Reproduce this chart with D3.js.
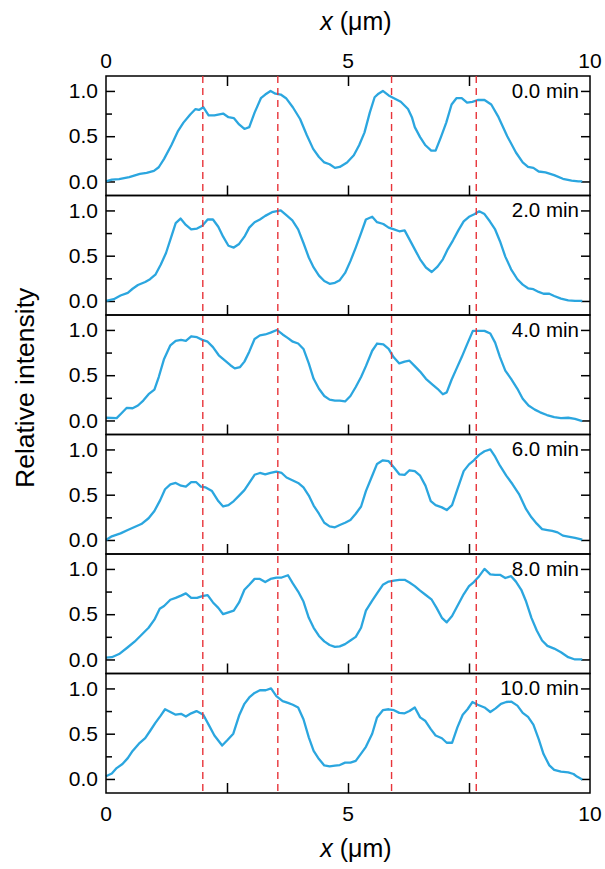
<!DOCTYPE html>
<html>
<head>
<meta charset="utf-8">
<script src="https://cdn.jsdelivr.net/npm/d3@7"></script>
<style>
  body { margin: 0; background: #fff; }
  svg { display: block; }
  text { font-family: "Liberation Sans", Arial, sans-serif; fill: #000; }
</style>
</head>
<body>
<div id="chart"></div>
<script>
// profiles, [x (um), relative intensity]
var profile0 = [[0,0],[0.12,0.02],[0.27,0.026],[0.48,0.048],[0.7,0.084],[0.84,0.095],[0.99,0.117],[1.09,0.157],[1.2,0.25],[1.35,0.4],[1.49,0.56],[1.6,0.65],[1.74,0.74],[1.85,0.8],[1.92,0.79],[2.01,0.82],[2.12,0.73],[2.24,0.73],[2.42,0.75],[2.53,0.71],[2.64,0.7],[2.75,0.63],[2.86,0.58],[2.96,0.6],[3.07,0.76],[3.2,0.92],[3.29,0.96],[3.4,1.0],[3.5,0.97],[3.61,0.96],[3.72,0.92],[3.86,0.82],[4.01,0.69],[4.15,0.51],[4.28,0.36],[4.4,0.27],[4.51,0.21],[4.62,0.19],[4.73,0.15],[4.83,0.16],[4.98,0.21],[5.12,0.29],[5.23,0.4],[5.34,0.54],[5.45,0.76],[5.55,0.93],[5.63,0.97],[5.72,1.0],[5.84,0.95],[5.95,0.92],[6.09,0.88],[6.24,0.8],[6.32,0.71],[6.38,0.6],[6.49,0.49],[6.6,0.4],[6.72,0.34],[6.81,0.34],[6.92,0.49],[7.03,0.65],[7.14,0.85],[7.24,0.92],[7.35,0.92],[7.46,0.87],[7.57,0.88],[7.68,0.9],[7.82,0.9],[7.96,0.85],[8.11,0.71],[8.29,0.5],[8.47,0.32],[8.61,0.21],[8.72,0.16],[8.83,0.15],[8.94,0.11],[9.08,0.1],[9.26,0.07],[9.44,0.03],[9.62,0.01],[9.76,0],[9.84,0]];
var profile2 = [[0,0],[0.16,0.02],[0.3,0.06],[0.45,0.09],[0.55,0.135],[0.66,0.176],[0.81,0.21],[0.91,0.24],[1.02,0.29],[1.13,0.4],[1.24,0.53],[1.35,0.71],[1.44,0.86],[1.54,0.91],[1.65,0.84],[1.76,0.79],[1.88,0.8],[1.99,0.83],[2.1,0.9],[2.21,0.9],[2.32,0.82],[2.42,0.71],[2.53,0.61],[2.64,0.59],[2.75,0.63],[2.86,0.71],[2.96,0.81],[3.07,0.87],[3.18,0.9],[3.29,0.94],[3.43,0.98],[3.61,1.0],[3.72,0.95],[3.85,0.89],[3.97,0.79],[4.08,0.64],[4.19,0.48],[4.29,0.37],[4.4,0.28],[4.51,0.22],[4.62,0.19],[4.73,0.2],[4.83,0.23],[4.94,0.31],[5.05,0.44],[5.16,0.59],[5.27,0.75],[5.37,0.9],[5.5,0.93],[5.6,0.87],[5.73,0.85],[5.84,0.81],[5.95,0.79],[6.06,0.77],[6.17,0.78],[6.27,0.68],[6.38,0.57],[6.49,0.46],[6.61,0.37],[6.73,0.32],[6.85,0.38],[6.96,0.46],[7.06,0.57],[7.17,0.67],[7.28,0.78],[7.39,0.88],[7.5,0.93],[7.62,0.96],[7.71,0.99],[7.82,0.96],[7.93,0.88],[8.04,0.79],[8.14,0.66],[8.25,0.49],[8.37,0.35],[8.5,0.24],[8.61,0.18],[8.72,0.14],[8.83,0.13],[8.94,0.1],[9.04,0.08],[9.16,0.08],[9.26,0.055],[9.4,0.026],[9.55,0.007],[9.69,0],[9.84,0]];
var profile4 = [[0,0.03],[0.22,0.026],[0.32,0.08],[0.43,0.14],[0.55,0.135],[0.66,0.165],[0.77,0.22],[0.88,0.29],[1.0,0.34],[1.09,0.48],[1.2,0.68],[1.33,0.83],[1.44,0.88],[1.55,0.89],[1.65,0.88],[1.76,0.93],[1.88,0.92],[1.99,0.89],[2.1,0.87],[2.21,0.81],[2.33,0.72],[2.46,0.66],[2.57,0.61],[2.66,0.575],[2.77,0.59],[2.86,0.65],[2.96,0.76],[3.07,0.9],[3.18,0.94],[3.29,0.95],[3.4,0.97],[3.53,1.0],[3.65,0.95],[3.76,0.91],[3.86,0.87],[3.97,0.85],[4.08,0.79],[4.19,0.63],[4.29,0.46],[4.4,0.35],[4.51,0.27],[4.62,0.23],[4.73,0.22],[4.83,0.22],[4.94,0.21],[5.05,0.27],[5.16,0.37],[5.27,0.48],[5.37,0.6],[5.5,0.77],[5.6,0.85],[5.73,0.84],[5.84,0.79],[5.94,0.7],[6.06,0.63],[6.17,0.65],[6.27,0.66],[6.38,0.6],[6.49,0.54],[6.61,0.46],[6.74,0.4],[6.85,0.35],[6.96,0.29],[7.04,0.31],[7.14,0.45],[7.24,0.57],[7.35,0.7],[7.46,0.84],[7.58,0.99],[7.71,0.99],[7.82,0.99],[7.94,0.96],[8.04,0.86],[8.14,0.7],[8.25,0.55],[8.37,0.46],[8.5,0.35],[8.61,0.24],[8.73,0.165],[8.86,0.12],[8.97,0.09],[9.11,0.06],[9.26,0.037],[9.4,0.026],[9.55,0.03],[9.69,0.018],[9.84,-0.007]];
var profile6 = [[0,0],[0.12,0.04],[0.3,0.073],[0.45,0.11],[0.59,0.143],[0.73,0.176],[0.88,0.24],[1.0,0.32],[1.12,0.44],[1.22,0.56],[1.33,0.615],[1.44,0.63],[1.55,0.6],[1.65,0.59],[1.76,0.64],[1.86,0.64],[1.96,0.59],[2.06,0.58],[2.19,0.54],[2.32,0.43],[2.42,0.37],[2.53,0.385],[2.64,0.43],[2.75,0.49],[2.86,0.55],[2.96,0.63],[3.07,0.72],[3.18,0.74],[3.29,0.725],[3.4,0.74],[3.52,0.755],[3.63,0.74],[3.73,0.69],[3.85,0.66],[3.97,0.63],[4.08,0.58],[4.19,0.49],[4.29,0.38],[4.4,0.29],[4.51,0.19],[4.62,0.15],[4.73,0.14],[4.83,0.165],[4.94,0.19],[5.05,0.22],[5.16,0.29],[5.27,0.37],[5.37,0.54],[5.5,0.71],[5.6,0.84],[5.72,0.88],[5.84,0.87],[5.95,0.8],[6.06,0.725],[6.17,0.72],[6.27,0.77],[6.38,0.76],[6.49,0.71],[6.6,0.6],[6.71,0.43],[6.81,0.385],[6.94,0.36],[7.04,0.33],[7.15,0.385],[7.26,0.56],[7.39,0.76],[7.5,0.835],[7.6,0.88],[7.71,0.94],[7.82,0.98],[7.94,1.0],[8.04,0.92],[8.14,0.82],[8.27,0.71],[8.4,0.615],[8.54,0.5],[8.68,0.34],[8.79,0.25],[8.9,0.18],[9.01,0.12],[9.12,0.11],[9.22,0.1],[9.33,0.084],[9.44,0.048],[9.55,0.037],[9.69,0.022],[9.84,0.004]];
var profile8 = [[0,0.02],[0.12,0.025],[0.27,0.06],[0.45,0.135],[0.59,0.196],[0.73,0.27],[0.88,0.35],[1.0,0.44],[1.11,0.56],[1.2,0.59],[1.33,0.66],[1.44,0.68],[1.55,0.705],[1.65,0.73],[1.76,0.68],[1.88,0.68],[1.99,0.7],[2.1,0.71],[2.21,0.63],[2.32,0.57],[2.42,0.5],[2.53,0.52],[2.64,0.54],[2.75,0.63],[2.86,0.77],[2.96,0.825],[3.07,0.89],[3.18,0.89],[3.29,0.855],[3.4,0.89],[3.52,0.905],[3.63,0.905],[3.76,0.93],[3.86,0.84],[3.97,0.75],[4.08,0.64],[4.19,0.46],[4.29,0.35],[4.4,0.26],[4.51,0.2],[4.62,0.16],[4.73,0.14],[4.83,0.145],[4.94,0.17],[5.05,0.21],[5.16,0.25],[5.27,0.35],[5.37,0.54],[5.5,0.65],[5.6,0.73],[5.72,0.825],[5.84,0.86],[5.95,0.87],[6.06,0.88],[6.17,0.88],[6.27,0.85],[6.38,0.81],[6.49,0.76],[6.6,0.715],[6.73,0.66],[6.83,0.57],[6.94,0.46],[7.04,0.41],[7.15,0.48],[7.26,0.59],[7.39,0.72],[7.5,0.81],[7.6,0.855],[7.71,0.92],[7.82,1.0],[7.94,0.94],[8.04,0.935],[8.14,0.935],[8.25,0.9],[8.37,0.92],[8.47,0.86],[8.58,0.77],[8.68,0.64],[8.79,0.46],[8.9,0.32],[9.01,0.21],[9.12,0.15],[9.26,0.12],[9.4,0.08],[9.55,0.025],[9.69,0],[9.84,0]];
var profile10 = [[0,0.03],[0.12,0.06],[0.22,0.12],[0.34,0.165],[0.45,0.23],[0.55,0.31],[0.68,0.39],[0.81,0.45],[0.91,0.53],[1.02,0.62],[1.13,0.7],[1.22,0.77],[1.33,0.74],[1.44,0.71],[1.55,0.72],[1.65,0.69],[1.76,0.725],[1.87,0.75],[2.01,0.71],[2.12,0.6],[2.24,0.48],[2.4,0.37],[2.51,0.43],[2.63,0.5],[2.75,0.7],[2.86,0.83],[2.96,0.9],[3.07,0.95],[3.18,0.98],[3.3,0.98],[3.41,1.0],[3.52,0.915],[3.65,0.86],[3.76,0.84],[3.86,0.82],[3.97,0.79],[4.08,0.66],[4.19,0.46],[4.29,0.31],[4.4,0.22],[4.51,0.15],[4.62,0.14],[4.73,0.147],[4.83,0.154],[4.94,0.18],[5.05,0.18],[5.16,0.2],[5.27,0.28],[5.37,0.355],[5.5,0.5],[5.6,0.68],[5.72,0.76],[5.84,0.77],[5.95,0.76],[6.06,0.73],[6.17,0.725],[6.27,0.75],[6.38,0.79],[6.49,0.68],[6.6,0.64],[6.71,0.55],[6.81,0.48],[6.94,0.45],[7.04,0.4],[7.15,0.4],[7.26,0.57],[7.37,0.71],[7.47,0.77],[7.57,0.85],[7.68,0.82],[7.82,0.79],[7.94,0.74],[8.05,0.78],[8.16,0.83],[8.27,0.85],[8.37,0.855],[8.5,0.81],[8.61,0.73],[8.72,0.685],[8.83,0.6],[8.94,0.44],[9.04,0.275],[9.16,0.15],[9.26,0.1],[9.4,0.08],[9.55,0.073],[9.66,0.055],[9.73,0.026],[9.84,-0.007]];

var profiles = [profile0, profile2, profile4, profile6, profile8, profile10];
var timeLabels = ["0.0 min", "2.0 min", "4.0 min", "6.0 min", "8.0 min", "10.0 min"];
var dashX = [2.0, 3.55, 5.9, 7.65];
var xLabelTicks = [0, 5, 10];
var xInnerTicks = [2.5, 5, 7.5];
var yMajorTicks = [0, 0.5, 1.0];
var yMinorTicks = [0.25, 0.75];

var width = 605, height = 869;
var margin = {top: 76, right: 15, bottom: 76, left: 106};
var panelH = (height - margin.top - margin.bottom) / profiles.length;

var svg = d3.select("#chart").append("svg")
    .attr("width", width)
    .attr("height", height);

var x = d3.scaleLinear().domain([0, 10]).range([margin.left, width - margin.right]);

var blue = "#2ba6df";

profiles.forEach(function(data, i) {
  var top = margin.top + i * panelH;
  var y = d3.scaleLinear().domain([-0.155, 1.165]).range([top + panelH, top]);
  var g = svg.append("g").attr("class", "panel");

  // left ticks + labels
  g.append("g")
    .attr("transform", "translate(" + x(0) + ",0)")
    .call(d3.axisLeft(y).tickValues(yMajorTicks).tickSizeInner(-9).tickSizeOuter(0).tickPadding(8).tickFormat(d3.format(".1f")))
    .call(styleAxis);
  g.append("g")
    .attr("transform", "translate(" + x(0) + ",0)")
    .call(d3.axisLeft(y).tickValues(yMinorTicks).tickSizeInner(-6).tickSizeOuter(0).tickFormat(""))
    .call(styleAxis);

  // right ticks
  g.append("g")
    .attr("transform", "translate(" + x(10) + ",0)")
    .call(d3.axisRight(y).tickValues(yMajorTicks).tickSizeInner(-9).tickSizeOuter(0).tickFormat(""))
    .call(styleAxis);
  g.append("g")
    .attr("transform", "translate(" + x(10) + ",0)")
    .call(d3.axisRight(y).tickValues(yMinorTicks).tickSizeInner(-6).tickSizeOuter(0).tickFormat(""))
    .call(styleAxis);

  // bottom inner ticks
  g.append("g")
    .attr("transform", "translate(0," + (top + panelH) + ")")
    .call(d3.axisBottom(x).tickValues(xInnerTicks).tickSizeInner(-10).tickSizeOuter(0).tickFormat(""))
    .call(styleAxis);

  if (i === 0) {
    g.append("g")
      .attr("transform", "translate(0," + top + ")")
      .call(d3.axisTop(x).tickValues(xInnerTicks).tickSizeInner(-10).tickSizeOuter(0).tickFormat(""))
      .call(styleAxis);
  }

  g.append("path")
    .datum(data)
    .attr("fill", "none")
    .attr("stroke", blue)
    .attr("stroke-width", 2.3)
    .attr("stroke-linejoin", "round")
    .attr("d", d3.line().x(function(d) { return x(d[0]); }).y(function(d) { return y(d[1]); }));

  g.append("rect")
    .attr("x", x(0)).attr("y", top)
    .attr("width", x(10) - x(0)).attr("height", panelH)
    .attr("fill", "none").attr("stroke", "#000").attr("stroke-width", 1.5);

  g.append("text")
    .attr("x", x(10) - 11)
    .attr("y", y(1.0) + 7)
    .attr("text-anchor", "end")
    .style("font-size", "20.5px")
    .text(timeLabels[i]);
});

// red guides through all panels
svg.append("g").selectAll("line")
  .data(dashX)
  .join("line")
  .attr("x1", function(d) { return x(d); })
  .attr("x2", function(d) { return x(d); })
  .attr("y1", margin.top)
  .attr("y2", height - margin.bottom)
  .attr("stroke", "#e8343a")
  .attr("stroke-width", 1.4)
  .attr("stroke-dasharray", "7,5");

// x tick labels, top and bottom
svg.append("g").selectAll("text")
  .data(xLabelTicks)
  .join("text")
  .attr("x", function(d) { return x(d); })
  .attr("y", 68)
  .attr("text-anchor", "middle")
  .style("font-size", "21px")
  .text(function(d) { return d; });
svg.append("g").selectAll("text")
  .data(xLabelTicks)
  .join("text")
  .attr("x", function(d) { return x(d); })
  .attr("y", 821)
  .attr("text-anchor", "middle")
  .style("font-size", "21px")
  .text(function(d) { return d; });

// axis titles
[30, 857].forEach(function(ty) {
  var t = svg.append("text")
    .attr("x", 356).attr("y", ty)
    .attr("text-anchor", "middle")
    .style("font-size", "25px");
  t.append("tspan").style("font-style", "italic").text("x");
  t.append("tspan").text(" (\u03bcm)");
});

svg.append("text")
  .attr("transform", "translate(34,488) rotate(-90)")
  .attr("text-anchor", "start")
  .style("font-size", "26.5px")
  .text("Relative intensity");

function styleAxis(sel) {
  sel.select(".domain").remove();
  sel.selectAll(".tick line").attr("stroke", "#000").attr("stroke-width", 1.5);
  sel.selectAll(".tick text").style("font-size", "21px").attr("fill", "#000")
    .style("font-family", "'Liberation Sans', Arial, sans-serif");
}
</script>
</body>
</html>
